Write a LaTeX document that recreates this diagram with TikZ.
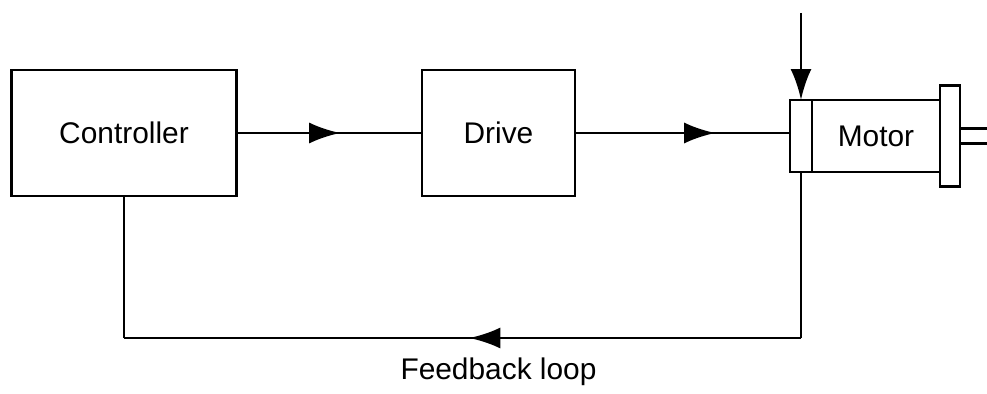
\documentclass[tikz,border=0pt]{standalone}
\usepackage{fontspec}
\setmainfont{Liberation Sans}
\usetikzlibrary{positioning,arrows.meta,decorations.markings}

\begin{document}
\begin{tikzpicture}[line width=1.6pt, >={Latex[length=0.62cm,width=0.42cm]},
        font=\fontsize{17pt}{20pt}\selectfont,
        block/.style={draw, minimum width=#1, minimum height=2.52cm},
        motorpart/.style={draw, outer sep=0pt, minimum height=1.44cm, inner sep=0pt},
        midarrow/.style={postaction={decorate}, decoration={markings,
            mark=at position #1 with {\arrow{>}}}}]

        \useasboundingbox (0,0) rectangle (19.74,-7.88);

        % --- Blocchi Controller e Drive ---
        \node[block=4.5cm] (controller) at (2.48,-2.66) {Controller};
        \node[block=3.06cm] (drive) at (9.97,-2.66) {Drive};

        % --- Motore (coperchio, corpo, flangia) ---
        \node[motorpart, minimum width=0.44cm] (motorcap) at (16.02,-2.72) {};
        \node[motorpart, minimum width=2.56cm, right=0pt of motorcap] (motor) {Motor};
        \node[motorpart, minimum width=0.4cm, minimum height=2.02cm, right=0pt of motor] (flange) {};
        \draw ([yshift=0.15cm]flange.east) -- ++(0.6,0);
        \draw ([yshift=-0.15cm]flange.east) -- ++(0.6,0);

        % --- Frecce Controller -> Drive -> Motor ---
        \draw[midarrow=0.56] (controller.east) -- (drive.west);
        \draw[midarrow=0.65] (drive.east) -- (drive.east -| motorcap.west);

        % --- Ingresso dall'alto sul motore ---
        \coordinate[above=1.74cm of motorcap.north] (motorin);
        \draw[->] (motorin) -- (motorcap.north);

        % --- Anello di retroazione ---
        \coordinate (fbr) at (motorcap.south |- 0,-6.76);
        \coordinate (fbl) at (controller.south |- fbr);
        \draw (motorcap.south) -- (fbr);
        \draw[midarrow=0.49] (fbr) -- (fbl);
        \draw (fbl) -- (controller.south);
        \node (fblabel) at ([yshift=-0.68cm]drive |- fbr) {Feedback loop};

    \end{tikzpicture}
\end{document}
